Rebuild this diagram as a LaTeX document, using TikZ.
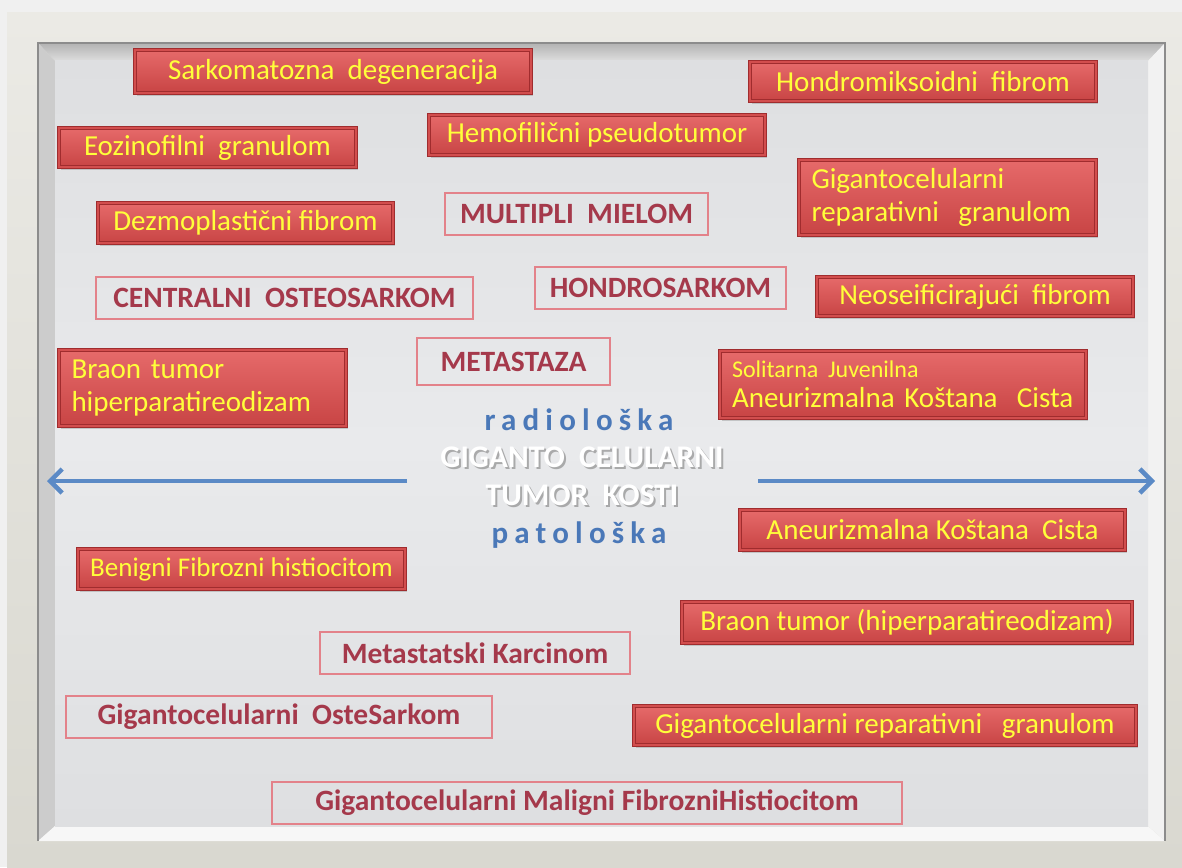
\documentclass[tikz,border=0pt]{standalone}
\usepackage{fontspec}
\setmainfont{Carlito}
\usetikzlibrary{shadows,arrows.meta}
\definecolor{bdark}{HTML}{A02C2E}
\definecolor{bmid}{HTML}{D24E4E}
\definecolor{rtop}{HTML}{E66A6A}
\definecolor{rbot}{HTML}{C84444}
\definecolor{ytext}{HTML}{FFFF3A}
\definecolor{oline}{HTML}{E3828A}
\definecolor{otext}{HTML}{A5394B}
\definecolor{ablue}{HTML}{5B8AC6}
\definecolor{tblue}{HTML}{4A78B8}
\definecolor{frameA}{HTML}{EBEAE5}
\definecolor{frameB}{HTML}{D9D8D0}
\definecolor{faceA}{HTML}{DEDFE1}
\definecolor{faceB}{HTML}{E9EAEC}
\newcommand\fsz[2]{\fontsize{#1}{#2}\selectfont}
\newcommand\placebox[7]{\node[#1, minimum width={#4-#3-4}, minimum height={#6-#5-4}] (#2) at ({(#3+#4)/2},{(#5+#6)/2}) {#7};}
\begin{document}
\begin{tikzpicture}[x=1pt,y=-1pt,
  redbox/.style={draw=bdark, line width=1.4pt, double=bmid, double distance=2pt,
    top color=rtop, bottom color=rbot, text=ytext, font=\fsz{29}{33}, inner sep=0pt,
    drop shadow={opacity=0.35, shadow xshift=2pt, shadow yshift=-3pt}},
  outbox/.style={draw=oline, line width=2pt, text=otext, font=\bfseries\fsz{29.5}{33}, inner sep=0pt},
  leftbox/.style={align=left, text width=#1},
  arr/.style={draw=ablue, line width=4pt, -{Straight Barb[length=12pt,width=24pt,line width=4.5pt]}},
  titlefont/.style={font=\bfseries\fsz{31.5}{36}, inner sep=0pt, anchor=base},
  spaced/.style={font=\bfseries\fsz{31}{34}\addfontfeature{LetterSpace=20}, text=tblue, inner sep=0pt, anchor=base}
]
\useasboundingbox (0,0) rectangle (1182,867);
% page and frame
\fill[white!94!black] (0,0) rectangle (1182,867);
\shade[top color=frameA, bottom color=frameB] (7,13) rectangle (1182,867);
% bevelled panel
\shade[top color=black!30, bottom color=black!13] (38,43) -- (1165,43) -- (1148,61) -- (55,61) -- cycle;
\fill[black!20] (38,43) -- (55,61) -- (55,826) -- (38,841) -- cycle;
\fill[black!3] (38,841) -- (55,826) -- (1148,826) -- (1165,841) -- cycle;
\fill[black!5] (1165,43) -- (1148,61) -- (1148,826) -- (1165,841) -- cycle;
\shade[top color=faceA, bottom color=faceA, middle color=faceB] (55,61) rectangle (1148,826);
\draw[black!45, line width=1.3pt] (38,841) -- (38,43) -- (1165,43) -- (1165,841);

% filled boxes
\placebox{redbox}{sark}{133}{533}{48}{95}{Sarkomatozna\ \ degeneracija}
\placebox{redbox}{hondmiks}{748}{1098}{60}{103}{Hondromiksoidni\ \ fibrom}
\placebox{redbox}{eoz}{57}{358}{126}{169}{Eozinofilni\ \ granulom}
\placebox{redbox}{hemo}{427}{767}{113}{157}{Hemofilični pseudotumor}
\placebox{redbox,leftbox=272pt}{gigrep}{797}{1098}{158}{237}{Gigantocelularni\\reparativni\ \ granulom}
\placebox{redbox}{dezmo}{96}{395}{201}{245}{Dezmoplastični fibrom}
\placebox{redbox}{neo}{815}{1135}{275}{318}{Neoseificirajući\ \ fibrom}
\placebox{redbox,leftbox=262pt}{braonA}{57}{348}{348}{428}{Braon tumor\\hiperparatireodizam}
\placebox{redbox,leftbox=342pt}{sol}{718}{1088}{349}{420}{{\fsz{24}{24}Solitarna Juvenilna}\\[-3pt]Aneurizmalna Koštana\ \ Cista}
\placebox{redbox}{aneur}{738}{1127}{508}{552}{Aneurizmalna Koštana\ \ Cista}
\placebox{redbox,font=\fsz{27}{31}}{benigni}{76}{407}{547}{591}{Benigni Fibrozni histiocitom}
\placebox{redbox}{braonB}{680}{1134}{600}{645}{Braon tumor (hiperparatireodizam)}
\placebox{redbox}{gigrepB}{632}{1138}{704}{747}{Gigantocelularni reparativni\ \ \ granulom}

% outlined boxes
\placebox{outbox}{multi}{443}{710}{191}{237}{MULTIPLI\ \ MIELOM}
\placebox{outbox}{central}{94}{475}{275}{321}{CENTRALNI\ \ OSTEOSARKOM}
\placebox{outbox}{hondro}{533}{788}{265}{311}{HONDROSARKOM}
\placebox{outbox}{meta}{415}{612}{336}{387}{METASTAZA}
\placebox{outbox}{metak}{318}{632}{630}{676}{Metastatski Karcinom}
\placebox{outbox}{gigost}{64}{494}{694}{740}{Gigantocelularni\ \ OsteSarkom}
\placebox{outbox}{gigmal}{270}{904}{780}{826}{Gigantocelularni Maligni FibrozniHistiocitom}

% centre text
\node[spaced] (radio) at (579,430) {radiološka};
\node[titlefont, text=black!50, opacity=0.6] (titleAs) at (584,469) {GIGANTO\ \ CELULARNI};
\node[titlefont, text=white] (titleA) at (582,467) {GIGANTO\ \ CELULARNI};
\node[titlefont, text=black!50, opacity=0.6] (titleBs) at (584,507) {TUMOR\ \ KOSTI};
\node[titlefont, text=white] (titleB) at (582,505) {TUMOR\ \ KOSTI};
\node[spaced] (pato) at (579,543) {patološka};

% arrows
\coordinate (lstart) at (407,481);
\coordinate (lend) at (47,481);
\coordinate (rstart) at (758,481);
\coordinate (rend) at (1155,481);
\draw[arr] (lstart) -- (lend);
\draw[arr] (rstart) -- (rend);
\end{tikzpicture}
\end{document}
